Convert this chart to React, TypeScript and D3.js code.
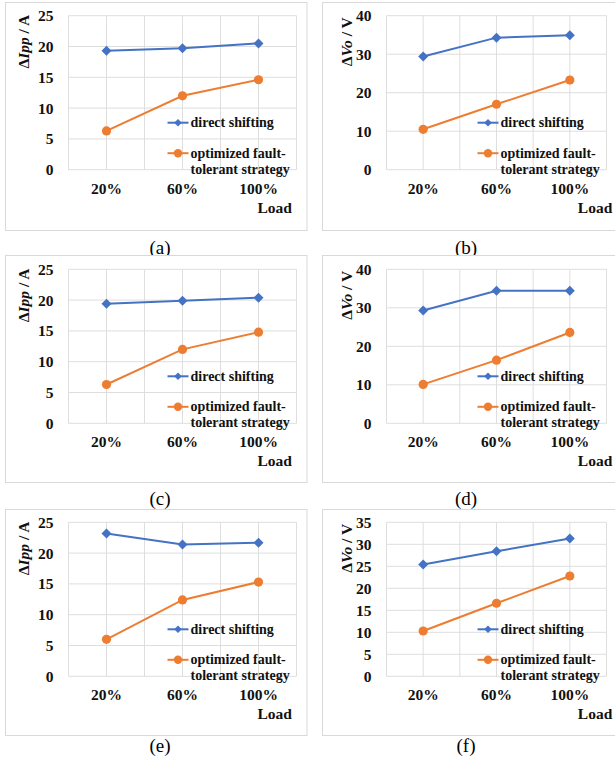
import React from "react";
import * as d3 from "d3";

// categories and series
const loads = ["20%", "60%", "100%"];
const legendShift = "direct shifting";
const legendOptim = ["optimized fault-", "tolerant strategy"];

const shiftA = [19.3, 19.7, 20.5];
const optimA = [6.3, 12.0, 14.6];
const shiftB = [29.4, 34.3, 34.9];
const optimB = [10.5, 17.0, 23.3];
const shiftC = [19.4, 19.9, 20.4];
const optimC = [6.3, 12.0, 14.8];
const shiftD = [29.3, 34.4, 34.4];
const optimD = [10.1, 16.4, 23.6];
const shiftE = [23.2, 21.4, 21.7];
const optimE = [6.0, 12.4, 15.3];
const shiftF = [25.4, 28.4, 31.3];
const optimF = [10.3, 16.6, 22.8];

const ippTicks = [0, 5, 10, 15, 20, 25];
const voTicks = [0, 10, 20, 30, 40];
const voTicksF = [0, 5, 10, 15, 20, 25, 30, 35];

const captions = ["(a)", "(b)", "(c)", "(d)", "(e)", "(f)"];

const BLUE = "#4472c4";
const ORANGE = "#ed7d31";
const GRID = "#dedede";
const SERIF = "Liberation Serif";

// page layout (not data)
const cols = [
  { bx0: 5.5, bx1: 307, px0: 68.5, px1: 296.5, titleX: 24, loadDx: -1, capX: 160 },
  { bx0: 322.5, bx1: 640, px0: 386.5, px1: 606.5, titleX: 347, loadDx: 8, capX: 466 },
];
const rows = [
  { by0: 2.5, by1: 230.5, top: 15.7, capY: 247 },
  { by0: 255.5, by1: 482.5, top: 269.3, capY: 498 },
  { by0: 509.5, by1: 735.5, top: 522.3, capY: 745 },
];
const plotH = 154;

type PanelProps = {
  col: number;
  row: number;
  shift: number[];
  optim: number[];
  ticks: number[];
  unit: "I" | "V";
  caption: string;
};

function Diamond({ x, y, r }: { x: number; y: number; r: number }) {
  return (
    <path
      d={`M${x},${y - r}L${x + r},${y}L${x},${y + r}L${x - r},${y}Z`}
      fill={BLUE}
    />
  );
}

function Panel({ col, row, shift, optim, ticks, unit, caption }: PanelProps) {
  const c = cols[col];
  const r = rows[row];
  const bottom = r.top + plotH;

  const x = d3.scaleBand<string>().domain(loads).range([c.px0, c.px1]).padding(0);
  const y = d3
    .scaleLinear()
    .domain([0, d3.max(ticks) as number])
    .range([bottom, r.top]);
  const cx = (d: string) => (x(d) as number) + x.bandwidth() / 2;

  const line = d3
    .line<number>()
    .x((_, i) => cx(loads[i]))
    .y((d) => y(d));

  // gridlines at category edges and centres
  const vGrid: number[] = [];
  loads.forEach((d) => {
    vGrid.push(x(d) as number, cx(d));
  });
  vGrid.push(c.px1);

  const legX = c.px1 - 129;
  const legY1 = bottom - 47;
  const legY2 = bottom - 16.5;
  const txt = { fontFamily: SERIF, fontWeight: 700, fill: "#111" } as const;

  return (
    <g>
      <rect
        x={c.bx0}
        y={r.by0}
        width={c.bx1 - c.bx0}
        height={r.by1 - r.by0}
        fill="white"
        stroke="#d9d9d9"
        strokeWidth={1}
      />
      {ticks.map((t) => (
        <line key={"h" + t} x1={c.px0} x2={c.px1} y1={y(t)} y2={y(t)} stroke={GRID} strokeWidth={1} />
      ))}
      {vGrid.map((v, i) => (
        <line key={"v" + i} x1={v} x2={v} y1={r.top} y2={bottom} stroke={GRID} strokeWidth={1} />
      ))}
      {ticks.map((t) => (
        <text key={"t" + t} x={c.px0 - 15} y={y(t)} dy="0.35em" textAnchor="end" fontSize={15.5} {...txt}>
          {t}
        </text>
      ))}
      {loads.map((d) => (
        <text key={"x" + d} x={cx(d)} y={bottom + 24} textAnchor="middle" fontSize={15.5} {...txt}>
          {d}
        </text>
      ))}
      <text x={cx(loads[2]) + c.loadDx} y={bottom + 43} fontSize={15.5} {...txt}>
        Load
      </text>
      <text
        transform={`translate(${c.titleX},${r.top + 26}) rotate(-90)`}
        textAnchor="middle"
        dy="0.35em"
        fontSize={15.5}
        {...txt}
      >
        Δ<tspan fontStyle="italic">{unit === "I" ? "Ipp" : "Vo"}</tspan>
        {unit === "I" ? " / A" : " / V"}
      </text>
      <path d={line(shift) as string} fill="none" stroke={BLUE} strokeWidth={2} />
      <path d={line(optim) as string} fill="none" stroke={ORANGE} strokeWidth={2} />
      {shift.map((v, i) => (
        <Diamond key={"s" + i} x={cx(loads[i])} y={y(v)} r={5} />
      ))}
      {optim.map((v, i) => (
        <circle key={"o" + i} cx={cx(loads[i])} cy={y(v)} r={4.6} fill={ORANGE} />
      ))}
      {/* legend */}
      <line x1={legX} x2={legX + 21} y1={legY1} y2={legY1} stroke={BLUE} strokeWidth={2} />
      <Diamond x={legX + 10.5} y={legY1} r={3.8} />
      <text x={legX + 23} y={legY1} dy="0.33em" fontSize={14} {...txt}>
        {legendShift}
      </text>
      <line x1={legX} x2={legX + 21} y1={legY2} y2={legY2} stroke={ORANGE} strokeWidth={2} />
      <circle cx={legX + 10.5} cy={legY2} r={4.2} fill={ORANGE} />
      {legendOptim.map((s, i) => (
        <text key={"l" + i} x={legX + 23} y={legY2 + i * 16} dy="0.33em" fontSize={14} {...txt}>
          {s}
        </text>
      ))}
      <text
        x={c.capX}
        y={r.capY}
        dy="0.35em"
        textAnchor="middle"
        fontFamily={SERIF}
        fontSize={19}
        fill="#000"
      >
        {caption}
      </text>
    </g>
  );
}

export default function App() {
  return (
    <div style={{ position: "absolute", left: 0, top: 0 }}>
      <svg width={615} height={767} style={{ display: "block", background: "white" }}>
        <Panel col={0} row={0} shift={shiftA} optim={optimA} ticks={ippTicks} unit="I" caption={captions[0]} />
        <Panel col={1} row={0} shift={shiftB} optim={optimB} ticks={voTicks} unit="V" caption={captions[1]} />
        <Panel col={0} row={1} shift={shiftC} optim={optimC} ticks={ippTicks} unit="I" caption={captions[2]} />
        <Panel col={1} row={1} shift={shiftD} optim={optimD} ticks={voTicks} unit="V" caption={captions[3]} />
        <Panel col={0} row={2} shift={shiftE} optim={optimE} ticks={ippTicks} unit="I" caption={captions[4]} />
        <Panel col={1} row={2} shift={shiftF} optim={optimF} ticks={voTicksF} unit="V" caption={captions[5]} />
      </svg>
    </div>
  );
}
